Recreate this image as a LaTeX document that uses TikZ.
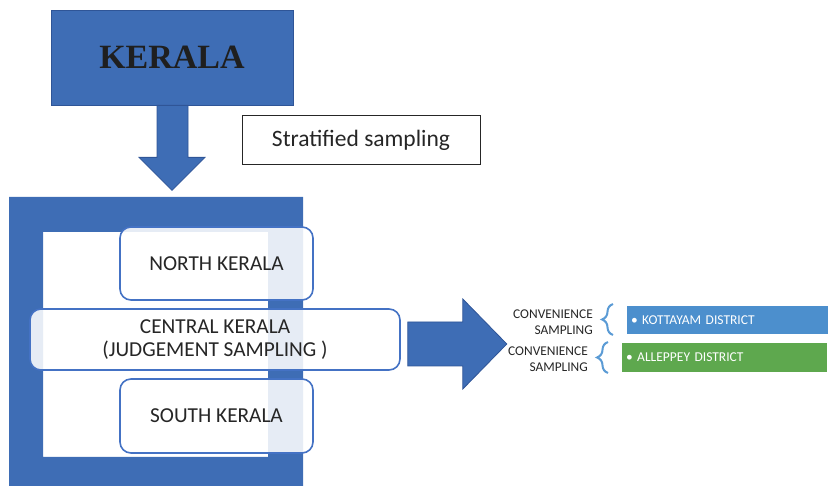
\documentclass[tikz,border=0pt]{standalone}
\usepackage{fontspec}
\setmainfont{Carlito}
\newfontfamily\titlefont{Liberation Serif}
\usetikzlibrary{calc,decorations.pathreplacing}
\definecolor{kblue}{HTML}{3E6DB5}
\definecolor{kline}{HTML}{2F5597}
\definecolor{rline}{HTML}{4472C4}
\definecolor{dblue}{HTML}{4C8FCD}
\definecolor{dgreen}{HTML}{5EA84E}
\definecolor{brc}{HTML}{5B9BD5}
\tikzset{
  blockfill/.style={fill=kblue, draw=kline, line width=0.8pt},
  region/.style={rounded corners=11pt, draw=rline, line width=1.6pt, fill=white, fill opacity=0.87, text opacity=1, text=black!85, font=\fontsize{21.3}{23.5}\selectfont, align=center},
  convtext/.style={anchor=east, align=right, font=\fontsize{13.4}{15.5}\selectfont, inner sep=0pt, text=black!85},
  district/.style={minimum height=28pt, inner xsep=4pt, inner ysep=0pt, align=left, text=white, font=\fontsize{13.5}{15}\selectfont},
  sbrace/.style={decorate, decoration={brace, amplitude=11pt, aspect=0.5}, draw=brc, line width=2pt}
}
\begin{document}
\begin{tikzpicture}[x=1pt, y=-1pt]
  \useasboundingbox (0,0) rectangle (828,486);
  % state box
  \node[blockfill, minimum width=242pt, minimum height=95pt, inner sep=0pt, font=\titlefont\bfseries\fontsize{34}{40}\selectfont, text=black!88] (kerala) at (172,57.5) {KERALA};
  \node[draw=black!85, line width=1pt, minimum width=238pt, minimum height=49pt, inner sep=0pt, font=\fontsize{23.5}{26}\selectfont, text=black!85] (strat) at (361,140.5) {Stratified sampling};
  % down arrow
  \filldraw[blockfill] ($(kerala.south)+(-15,0)$) -- ($(kerala.south)+(16,0)$) -- ($(kerala.south)+(16,52)$) -- ($(kerala.south)+(33,52)$) -- ($(kerala.south)+(0,85)$) -- ($(kerala.south)+(-33,52)$) -- ($(kerala.south)+(-15,52)$) -- cycle;
  % frame
  \fill[kblue, even odd rule] (9,197) rectangle (303,486) (43,232) rectangle (268,457);
  % regions
  \node[region, minimum width=193pt, minimum height=73pt] (north) at (216.5,263.5) {NORTH KERALA};
  \node[region, minimum width=370pt, minimum height=61pt, inner sep=0pt] (central) at (215,339.5) {CENTRAL KERALA\\(JUDGEMENT SAMPLING )};
  \node[region, minimum width=193pt, minimum height=74pt] (south) at (216.5,416) {SOUTH KERALA};
  % right arrow
  \coordinate (rstart) at ($(central.east)+(7,4.5)$);
  \filldraw[blockfill] ($(rstart)+(0,-22)$) -- ($(rstart)+(55,-22)$) -- ($(rstart)+(55,-45)$) -- ($(rstart)+(99,0)$) -- ($(rstart)+(55,45)$) -- ($(rstart)+(55,22)$) -- ($(rstart)+(0,22)$) -- cycle;
  % districts
  \node[convtext] (conv1) at (593,322) {CONVENIENCE\\SAMPLING};
  \node[convtext] (conv2) at (588,359) {CONVENIENCE\\SAMPLING};
  \node[district, fill=dblue, text width=193pt] (kottayam) at (727.5,320) {\textbullet\ KOTTAYAM DISTRICT};
  \node[district, fill=dgreen, minimum height=29pt, text width=197pt] (alleppey) at (724.5,357.5) {\textbullet\ ALLEPPEY DISTRICT};
  \coordinate (b1top) at (613,304);
  \coordinate (b1bot) at (613,335);
  \coordinate (b2top) at (608,342);
  \coordinate (b2bot) at (608,373);
  \draw[sbrace] (b1bot) -- (b1top);
  \draw[sbrace] (b2bot) -- (b2top);
\end{tikzpicture}
\end{document}
